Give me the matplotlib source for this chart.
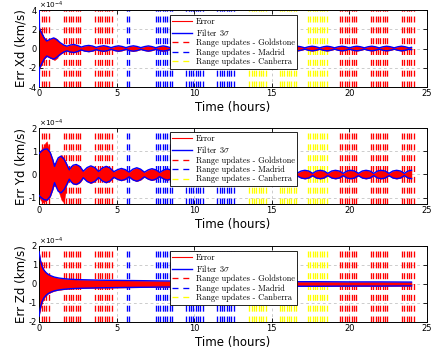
import numpy as np
import matplotlib
matplotlib.use("Agg")
import matplotlib.pyplot as plt
from matplotlib.lines import Line2D
from matplotlib.font_manager import FontProperties

plt.rcParams['font.family'] = 'DejaVu Sans'
plt.rcParams['lines.scale_dashes'] = False
plt.rcParams['axes.unicode_minus'] = False

SCALE = 1e-4  # values below are in units of 1e-4 km/s

# ---------------- range update passes (hours) ----------------
update_interval = 0.15  # hours between range updates within a pass
goldstone_passes = [(0.17, 0.76), (1.62, 2.72), (3.63, 4.75),
                    (19.40, 20.47), (21.40, 22.48), (23.38, 24.24)]
madrid_passes = [(5.68, 5.89), (7.51, 8.70), (9.50, 10.60), (11.50, 12.60)]
canberra_passes = [(13.56, 14.64), (15.50, 16.58), (17.33, 18.62)]

# ---------------- Xd: filter 3-sigma envelope ----------------
xd_t = [0.00, 0.03, 0.20, 0.35, 0.50, 0.70, 0.95, 1.15, 1.37, 1.60, 1.80, 2.00, 2.25, 2.50, 2.72,
        2.96, 3.20, 3.44, 3.68,
        3.92, 4.16, 4.40, 4.64,
        4.88, 5.12, 5.36, 5.60,
        5.84, 6.08, 6.32, 6.56,
        6.80, 7.04, 7.28, 7.52,
        7.76, 8.00, 8.24, 8.48,
        8.72, 8.96, 9.20, 9.44,
        9.68, 9.92, 10.16, 10.40,
        10.64, 10.88, 11.12, 11.36,
        11.60, 11.84, 12.08, 12.32,
        12.56, 12.80, 13.04, 13.28,
        13.52, 13.76, 14.00, 14.24,
        14.48, 14.72, 14.96, 15.20,
        15.44, 15.68, 15.92, 16.16,
        16.40, 16.64, 16.88, 17.12,
        17.36, 17.60, 17.84, 18.08,
        18.32, 18.56, 18.80, 19.04,
        19.28, 19.52, 19.76, 20.00,
        20.24, 20.48, 20.72, 20.96,
        21.20, 21.44, 21.68, 21.92,
        22.16, 22.40, 22.64, 22.88,
        23.12, 23.36, 23.60, 23.84,
        24.00]
xd_sigma = [6.00, 2.05, 1.50, 1.05, 0.78, 0.95, 1.10, 0.90, 0.60, 0.36, 0.24, 0.36, 0.42, 0.30, 0.15,
            0.27, 0.32, 0.26, 0.12,
            0.22, 0.29, 0.22, 0.09,
            0.21, 0.28, 0.21, 0.09,
            0.21, 0.28, 0.21, 0.09,
            0.20, 0.27, 0.20, 0.08,
            0.20, 0.27, 0.20, 0.08,
            0.20, 0.26, 0.20, 0.08,
            0.19, 0.26, 0.19, 0.08,
            0.19, 0.25, 0.19, 0.08,
            0.19, 0.25, 0.19, 0.08,
            0.19, 0.25, 0.19, 0.08,
            0.18, 0.24, 0.18, 0.07,
            0.18, 0.24, 0.18, 0.07,
            0.18, 0.24, 0.18, 0.07,
            0.18, 0.24, 0.18, 0.07,
            0.18, 0.24, 0.18, 0.07,
            0.18, 0.24, 0.18, 0.07,
            0.18, 0.24, 0.18, 0.07,
            0.18, 0.24, 0.18, 0.07,
            0.18, 0.24, 0.18, 0.07,
            0.18, 0.24, 0.18, 0.07,
            0.18, 0.24, 0.18, 0.07,
            0.12]
# early error excursions beyond the envelope
xd_err_t = [0.00, 0.03, 0.10, 0.20, 0.30, 0.45, 0.60, 0.80, 1.00, 1.20]
xd_err_hi = [2.25, 2.20, 1.90, 1.60, 1.20, 0.90, 0.80, 1.00, 1.15, 0.95]
xd_err_lo = [-2.05, -2.00, -1.80, -1.50, -1.15, -0.85, -0.80, -1.05, -1.20, -0.95]

# ---------------- Yd: filter 3-sigma envelope ----------------
yd_t = [0.00, 0.15, 0.32, 0.52, 0.72, 0.88, 1.00, 1.12, 1.24, 1.42, 1.62, 1.80, 1.95, 2.08, 2.20,
        2.40, 2.60, 2.73, 2.85,
        3.10, 3.34, 3.59, 3.84,
        4.08, 4.33, 4.57, 4.82,
        5.07, 5.31, 5.56, 5.81,
        6.05, 6.30, 6.54, 6.79,
        7.04, 7.28, 7.53, 7.78,
        8.02, 8.27, 8.51, 8.76,
        9.01, 9.25, 9.50, 9.75,
        9.99, 10.24, 10.48, 10.73,
        10.98, 11.22, 11.47, 11.72,
        11.96, 12.21, 12.45, 12.70,
        12.95, 13.19, 13.44, 13.69,
        13.93, 14.18, 14.42, 14.67,
        14.92, 15.16, 15.41, 15.66,
        15.90, 16.15, 16.39, 16.64,
        16.89, 17.13, 17.38, 17.63,
        17.87, 18.12, 18.36, 18.61,
        18.86, 19.10, 19.35, 19.60,
        19.84, 20.09, 20.33, 20.58,
        20.83, 21.07, 21.32, 21.57,
        21.81, 22.06, 22.30, 22.55,
        22.80, 23.04, 23.29, 23.54,
        23.78, 24.00]
yd_sigma = [0.90, 1.00, 1.08, 1.10, 0.95, 0.65, 0.35, 0.55, 0.72, 0.79, 0.65, 0.42, 0.20, 0.32, 0.40,
            0.43, 0.36, 0.26, 0.14,
            0.30, 0.37, 0.30, 0.13,
            0.28, 0.35, 0.28, 0.12,
            0.21, 0.26, 0.21, 0.10,
            0.23, 0.29, 0.23, 0.10,
            0.20, 0.25, 0.20, 0.09,
            0.19, 0.24, 0.19, 0.08,
            0.18, 0.22, 0.18, 0.07,
            0.17, 0.21, 0.17, 0.07,
            0.17, 0.21, 0.17, 0.07,
            0.16, 0.20, 0.16, 0.06,
            0.16, 0.20, 0.16, 0.06,
            0.16, 0.20, 0.16, 0.06,
            0.16, 0.20, 0.16, 0.06,
            0.16, 0.20, 0.16, 0.06,
            0.15, 0.18, 0.15, 0.05,
            0.15, 0.18, 0.15, 0.05,
            0.15, 0.18, 0.15, 0.05,
            0.15, 0.18, 0.15, 0.05,
            0.15, 0.18, 0.15, 0.05,
            0.15, 0.18, 0.15, 0.05,
            0.15, 0.18, 0.15, 0.05,
            0.15, 0.18]
yd_err_t = [0.00, 0.10, 0.25, 0.40, 0.50, 0.60, 0.75, 0.90, 1.10, 1.30, 1.45, 1.60, 1.75]
yd_err_hi = [0.95, 1.05, 1.15, 1.35, 1.43, 1.20, 0.80, 0.50, 0.50, 0.75, 0.85, 0.70, 0.50]
yd_err_lo = [-0.95, -1.10, -1.20, -1.15, -1.10, -1.00, -0.80, -0.50, -0.50, -0.80, -1.10, -1.20, -0.60]

# ---------------- Zd: filter 3-sigma envelope ----------------
zd_t = [0.00, 0.05, 0.10, 0.20, 0.30, 0.45, 0.60, 0.80, 1.00, 1.30, 1.60, 2.00, 2.50,
        3.00, 4.00, 5.00, 6.00, 8.00, 10.00, 12.00, 14.00, 16.00, 18.00, 20.00, 22.00, 24.00]
zd_sigma = [1.70, 1.45, 1.20, 0.92, 0.75, 0.60, 0.50, 0.42, 0.36, 0.31, 0.28, 0.25, 0.23,
            0.22, 0.20, 0.19, 0.18, 0.16, 0.15, 0.14, 0.13, 0.12, 0.12, 0.11, 0.11, 0.10]
zd_err_t = [0.00, 0.05, 0.15, 0.30]
zd_err_hi = [1.45, 1.35, 1.05, 0.75]
zd_err_lo = [-1.50, -1.40, -1.10, -0.75]

# ---------------- axes settings ----------------
x_ticks = [0, 5, 10, 15, 20, 25]
xd_ylim, xd_yticks = (-4, 4), [-4, -2, 0, 2, 4]
yd_ylim, yd_yticks = (-1.27, 2), [-1, 0, 1, 2]
zd_ylim, zd_yticks = (-2, 2), [-2, -1, 0, 1, 2]


def pass_times(passes):
    out = []
    for start, end in passes:
        out.extend(np.arange(start, end + 1e-6, update_interval))
    return np.array(out)


goldstone_times = pass_times(goldstone_passes)
madrid_times = pass_times(madrid_passes)
canberra_times = pass_times(canberra_passes)

DASH = (0, (4.3, 3.5))
legend_font = FontProperties(family='cmr10', size=6.0, math_fontfamily='cm')

panels = [
    dict(ylabel='Err Xd (km/s)', t=xd_t, sigma=xd_sigma, et=xd_err_t, ehi=xd_err_hi, elo=xd_err_lo,
         ylim=xd_ylim, yticks=xd_yticks, rect=[0.0901, 0.7583, 0.8961, 0.2139], anchor=(0.665, 0.935)),
    dict(ylabel='Err Yd (km/s)', t=yd_t, sigma=yd_sigma, et=yd_err_t, ehi=yd_err_hi, elo=yd_err_lo,
         ylim=yd_ylim, yticks=yd_yticks, rect=[0.0901, 0.4333, 0.8961, 0.2111], anchor=(0.665, 0.943)),
    dict(ylabel='Err Zd (km/s)', t=zd_t, sigma=zd_sigma, et=zd_err_t, ehi=zd_err_hi, elo=zd_err_lo,
         ylim=zd_ylim, yticks=zd_yticks, rect=[0.0901, 0.1056, 0.8961, 0.2111], anchor=(0.665, 0.934)),
]

fig = plt.figure(figsize=(4.33, 3.6), dpi=100)
exponent = int(round(np.log10(SCALE)))

for p in panels:
    ax = fig.add_axes(p['rect'])
    ymin, ymax = p['ylim'][0] * SCALE, p['ylim'][1] * SCALE

    # range update markers
    for times, color in ((goldstone_times, '#ff0000'), (madrid_times, '#0000ff'),
                         (canberra_times, '#ffff00')):
        ax.vlines(times, ymin, ymax, colors=color, linewidth=0.95, linestyles=[DASH], zorder=1)

    t = np.array(p['t'])
    s = np.array(p['sigma']) * SCALE
    # estimation error band
    ax.fill_between(t, -s, s, where=s <= ymax, color='r', linewidth=0.3, zorder=2)
    ax.fill_between(p['et'], np.array(p['elo']) * SCALE, np.array(p['ehi']) * SCALE,
                    color='r', linewidth=0.3, zorder=2)
    # filter 3-sigma bounds
    ax.plot(t, s, color='b', linewidth=1.0, zorder=3)
    ax.plot(t, -s, color='b', linewidth=1.0, zorder=3)

    ax.set_xlim(0, 25)
    ax.set_ylim(ymin, ymax)
    ax.set_xticks(x_ticks)
    ax.set_yticks(np.array(p['yticks']) * SCALE)
    ax.set_yticklabels([str(v) for v in p['yticks']])
    ax.annotate(r'$\times10^{%d}$' % exponent, xy=(0, 1), xycoords='axes fraction',
                xytext=(0, 1.0), textcoords='offset points', ha='left', va='baseline',
                fontsize=5.2)
    ax.tick_params(direction='in', top=True, right=True, length=2.8, width=0.6,
                   labelsize=6, pad=1.5)
    for sp in ax.spines.values():
        sp.set_linewidth(0.7)
    ax.set_axisbelow(True)
    ax.grid(True, color='#b8b8b8', linestyle=(0, (2, 2)), linewidth=0.5)
    ax.set_xlabel('Time (hours)', fontsize=8.5, labelpad=2)
    ax.set_ylabel(p['ylabel'], fontsize=8.5)
    ax.yaxis.set_label_coords(-0.03, 0.5)

    handles = [Line2D([], [], color='r', linewidth=0.8),
               Line2D([], [], color='b', linewidth=1.0),
               Line2D([], [], color='r', linewidth=0.95, linestyle=DASH),
               Line2D([], [], color='b', linewidth=0.95, linestyle=DASH),
               Line2D([], [], color='yellow', linewidth=0.95, linestyle=DASH)]
    labels = ['Error', r'Filter 3$\sigma$', 'Range updates - Goldstone',
              'Range updates - Madrid', 'Range updates - Canberra']
    leg = ax.legend(handles, labels, loc='upper right', bbox_to_anchor=p['anchor'],
                    bbox_transform=ax.transAxes, borderaxespad=0, prop=legend_font,
                    frameon=True, fancybox=False, framealpha=1, edgecolor='k',
                    handlelength=2.4, handletextpad=0.4, borderpad=0.3, labelspacing=0.12)
    leg.get_frame().set_linewidth(0.6)
    leg.set_zorder(10)

fig.savefig('out.png', dpi=100)
